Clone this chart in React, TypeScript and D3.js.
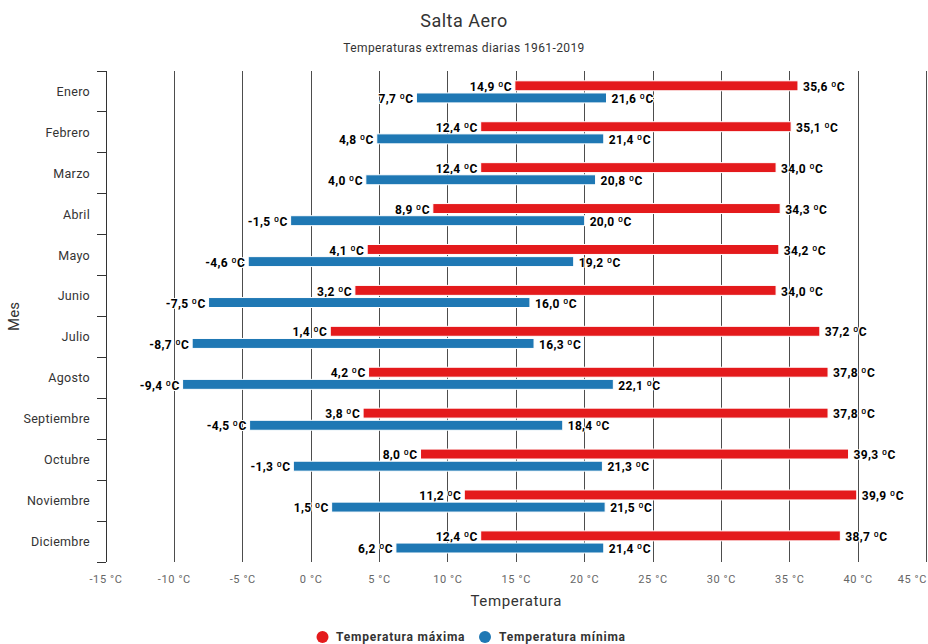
import React from 'react';
import * as d3 from 'd3';

const months = [
  'Enero', 'Febrero', 'Marzo', 'Abril', 'Mayo', 'Junio',
  'Julio', 'Agosto', 'Septiembre', 'Octubre', 'Noviembre', 'Diciembre',
];
// temperatura máxima: rango [mínima de las máximas, máxima de las máximas]
const maxLow = [14.9, 12.4, 12.4, 8.9, 4.1, 3.2, 1.4, 4.2, 3.8, 8.0, 11.2, 12.4];
const maxHigh = [35.6, 35.1, 34.0, 34.3, 34.2, 34.0, 37.2, 37.8, 37.8, 39.3, 39.9, 38.7];
// temperatura mínima
const minLow = [7.7, 4.8, 4.0, -1.5, -4.6, -7.5, -8.7, -9.4, -4.5, -1.3, 1.5, 6.2];
const minHigh = [21.6, 21.4, 20.8, 20.0, 19.2, 16.0, 16.3, 22.1, 18.4, 21.3, 21.5, 21.4];
const xTicks = [-15, -10, -5, 0, 5, 10, 15, 20, 25, 30, 35, 40, 45];

const series = [
  { key: 'max', name: 'Temperatura máxima', color: '#e41a1c', low: maxLow, high: maxHigh },
  { key: 'min', name: 'Temperatura mínima', color: '#1f78b4', low: minLow, high: minHigh },
];

const W = 928;
const H = 644;
const margin = { top: 71, right: 1.5, bottom: 82, left: 106 };
const font = 'Roboto, "Noto Sans", sans-serif';

const fmt = (v: number) => `${v.toFixed(1).replace('.', ',')} ºC`;

const App: React.FC = () => {
  const x = d3.scaleLinear()
    .domain([-15, 45])
    .range([margin.left, W - margin.right]);
  const y = d3.scaleBand<string>()
    .domain(months)
    .range([margin.top, H - margin.bottom]);
  const bw = y.bandwidth();
  const inner = d3.scaleBand<string>()
    .domain(series.map(s => s.key))
    .range([bw * 0.24, bw * 0.78])
    .paddingInner(0.18);

  const plotBottom = H - margin.bottom;

  const labelProps = {
    fontSize: 12, fontWeight: 'bold', fill: '#000', stroke: '#fff', strokeWidth: 2,
    strokeLinejoin: 'round' as const, paintOrder: 'stroke', letterSpacing: 0.3,
  };

  return (
    <svg width={W} height={H} style={{ position: 'absolute', left: 0, top: 0, fontFamily: font }}>
      <rect width={W} height={H} fill="#fff" />
      <text x={W / 2} y={27} textAnchor="middle" fontSize={18} letterSpacing={0.5} fill="#333">Salta Aero</text>
      <text x={W / 2} y={52} textAnchor="middle" fontSize={12} letterSpacing={0.4} fill="#333">Temperaturas extremas diarias 1961-2019</text>

      {/* gridlines */}
      {xTicks.map(t => (
        <line key={t} x1={x(t)} x2={x(t)} y1={margin.top} y2={plotBottom}
          stroke="#4d4d4d" strokeWidth={1} shapeRendering="crispEdges" />
      ))}

      {/* y axis */}
      <line x1={margin.left} x2={margin.left} y1={margin.top} y2={plotBottom}
        stroke="#333" strokeWidth={1} shapeRendering="crispEdges" />
      {months.map(m => (
        <line key={'t' + m} x1={margin.left - 9} x2={margin.left} y1={y(m)!} y2={y(m)!}
          stroke="#333" strokeWidth={1} shapeRendering="crispEdges" />
      ))}
      <line x1={margin.left - 9} x2={margin.left} y1={plotBottom} y2={plotBottom}
        stroke="#333" strokeWidth={1} shapeRendering="crispEdges" />
      {months.map(m => (
        <text key={'l' + m} x={margin.left - 16} y={y(m)! + bw / 2} dy="0.35em"
          textAnchor="end" fontSize={12.5} letterSpacing={0.3} fill="#333">{m}</text>
      ))}
      <text transform={`translate(19,${(margin.top + plotBottom) / 2}) rotate(-90)`}
        textAnchor="middle" fontSize={15} fill="#333">Mes</text>

      {/* x tick labels */}
      {xTicks.map((t, i) => (
        <text key={'x' + t} x={i === xTicks.length - 1 ? W - 1 : x(t)} y={579} dy="0.35em"
          textAnchor={i === xTicks.length - 1 ? 'end' : 'middle'} fontSize={11} letterSpacing={0.6}
          fill="#666">{`${t} °C`}</text>
      ))}
      <text x={(margin.left + W - margin.right) / 2} y={606} textAnchor="middle" fontSize={15}
        letterSpacing={0.6} fill="#333">Temperatura</text>

      {/* bars */}
      {series.map(s => (
        <g key={s.key}>
          {months.map((m, i) => {
            const y0 = y(m)! + inner(s.key)!;
            const h = inner.bandwidth();
            const x0 = x(s.low[i]);
            const x1 = x(s.high[i]);
            return (
              <g key={m}>
                <rect x={x0} y={y0} width={x1 - x0} height={h} fill={s.color}
                  stroke="#fff" strokeWidth={1} />
                <text x={x0 - 3} y={y0 + h / 2 + 1} dy="0.35em" textAnchor="end" {...labelProps}>
                  {fmt(s.low[i])}
                </text>
                <text x={x1 + 5} y={y0 + h / 2 + 1} dy="0.35em" textAnchor="start" {...labelProps}>
                  {fmt(s.high[i])}
                </text>
              </g>
            );
          })}
        </g>
      ))}

      {/* legend */}
      <g transform="translate(0,637)">
        <circle cx={322.5} cy={0} r={6} fill={series[0].color} />
        <text x={336} y={0} dy="0.35em" fontSize={12} fontWeight="bold" letterSpacing={0.8}
          fill="#333">{series[0].name}</text>
        <circle cx={485} cy={0} r={6} fill={series[1].color} />
        <text x={499} y={0} dy="0.35em" fontSize={12} fontWeight="bold" letterSpacing={0.8}
          fill="#333">{series[1].name}</text>
      </g>
    </svg>
  );
};

export default App;
